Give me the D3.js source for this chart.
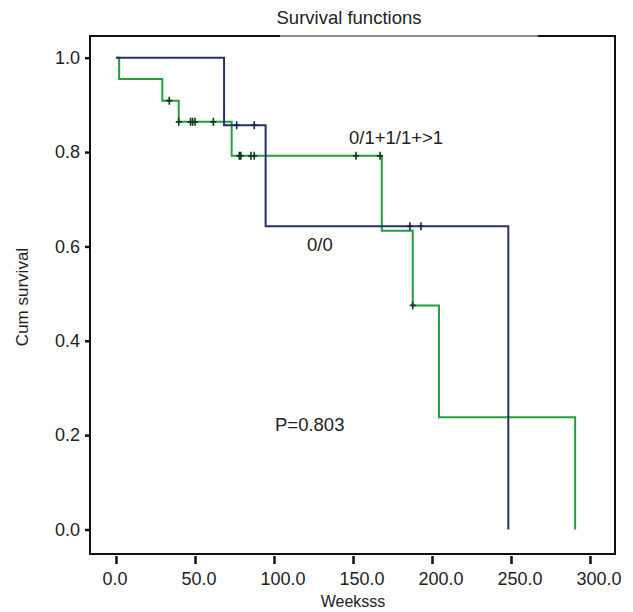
<!DOCTYPE html>
<html>
<head>
<meta charset="utf-8">
<script src="https://cdn.jsdelivr.net/npm/d3@7"></script>
<style>
  body { margin: 0; background: #fff; }
  text { font-family: "Liberation Sans", Arial, sans-serif; fill: #222; }
</style>
</head>
<body>
<div id="chart"></div>
<script>
// group 0/0 (blue): event times and survival after each event
var blueTimes = [0, 68.4, 94.7, 248.3];
var blueSurv = [1, 0.857, 0.643, 0];
var blueCensor = [76.4, 87.5, 186, 193];

// group 0/1+1/1+>1 (green)
var greenTimes = [0, 2, 29.3, 39.7, 73.2, 168.2, 187.8, 204.4, 290.6];
var greenSurv = [1, 0.955, 0.909, 0.864, 0.792, 0.633, 0.475, 0.238, 0];
var greenCensor = [33.7, 39.7, 47.2, 48.5, 50, 61.6, 78, 79, 85.4, 87.5, 151.9, 167.1, 187.8];

var xTicks = [0, 50, 100, 150, 200, 250, 300];
var yTicks = [0, 0.2, 0.4, 0.6, 0.8, 1.0];

var width = 633, height = 612;
var frame = {left: 90, right: 615, top: 36, bottom: 554};

var svg = d3.select("#chart").append("svg")
    .attr("width", width)
    .attr("height", height);

var x = d3.scaleLinear().domain([0, 300]).range([116, 590]);
var y = d3.scaleLinear().domain([0, 1]).range([529.5, 57.7]);

//frame around the plot
svg.append("rect")
   .attr("x", frame.left).attr("y", frame.top)
   .attr("width", frame.right - frame.left)
   .attr("height", frame.bottom - frame.top)
   .attr("fill", "none").attr("stroke", "#111").attr("stroke-width", 2);
// lighter piece of the top border under the title
svg.append("line")
   .attr("x1", 280).attr("x2", 538).attr("y1", frame.top).attr("y2", frame.top)
   .attr("stroke", "#8a8a8a").attr("stroke-width", 2);

//axes
var xAxis = svg.append("g")
   .attr("transform", "translate(0," + (frame.bottom + 2) + ")")
   .call(d3.axisBottom(x).tickValues(xTicks).tickSize(8).tickPadding(8).tickFormat(d3.format(".1f")));
var yAxis = svg.append("g")
   .attr("transform", "translate(" + frame.left + ",0)")
   .call(d3.axisLeft(y).tickValues(yTicks).tickSize(5).tickPadding(5).tickFormat(d3.format(".1f")));
[xAxis, yAxis].forEach(function(a) {
    a.select(".domain").remove();
    a.selectAll(".tick line").attr("stroke", "#111").attr("stroke-width", 2.5);
    a.selectAll(".tick text").attr("font-size", 18).attr("fill", "#222")
     .attr("font-family", "Liberation Sans, Arial, sans-serif");
});
//x labels sit a bit to the right of their ticks in the original
xAxis.selectAll(".tick text").attr("text-anchor", "start").attr("x", -14);

//step curves
function drawCurve(times, surv, censor, colour, markColour) {
    var pts = times.map(function(t, i) { return [t, surv[i]]; });
    var line = d3.line()
        .x(function(d) { return x(d[0]); })
        .y(function(d) { return y(d[1]); })
        .curve(d3.curveStepAfter);
    svg.append("path")
       .datum(pts)
       .attr("d", line)
       .attr("fill", "none")
       .attr("stroke", colour)
       .attr("stroke-width", 2);

    //survival value at a censor time
    function survAt(t) {
        var s = surv[0];
        for (let i = 0; i < times.length; i++) {
            if (times[i] <= t) { s = surv[i]; }
        }
        return s;
    }
    censor.forEach(function(t) {
        let cx = x(t), cy = y(survAt(t));
        svg.append("path")
           .attr("d", "M" + cx + "," + (cy - 4) + "V" + (cy + 4) + "M" + (cx - 3) + "," + cy + "H" + (cx + 3))
           .attr("stroke", markColour)
           .attr("stroke-width", 1.6)
           .attr("fill", "none");
    });
}

drawCurve(greenTimes, greenSurv, greenCensor, "#22a03a", "#123a18");
drawCurve(blueTimes, blueSurv, blueCensor, "#25306e", "#1a2350");

//labels
svg.append("text").attr("x", 349).attr("y", 24).attr("text-anchor", "middle")
   .attr("font-size", 18.5).text("Survival functions");
svg.append("text").attr("x", 353).attr("y", 607).attr("text-anchor", "middle")
   .attr("font-size", 16).text("Weeksss");
svg.append("text").attr("transform", "translate(28,297) rotate(-90)")
   .attr("text-anchor", "middle").attr("font-size", 17).text("Cum survival");
svg.append("text").attr("x", 349).attr("y", 144).attr("font-size", 18.5).text("0/1+1/1+>1");
svg.append("text").attr("x", 307).attr("y", 251).attr("font-size", 18.5).text("0/0");
svg.append("text").attr("x", 275).attr("y", 431).attr("font-size", 18.5).text("P=0.803");
</script>
</body>
</html>
